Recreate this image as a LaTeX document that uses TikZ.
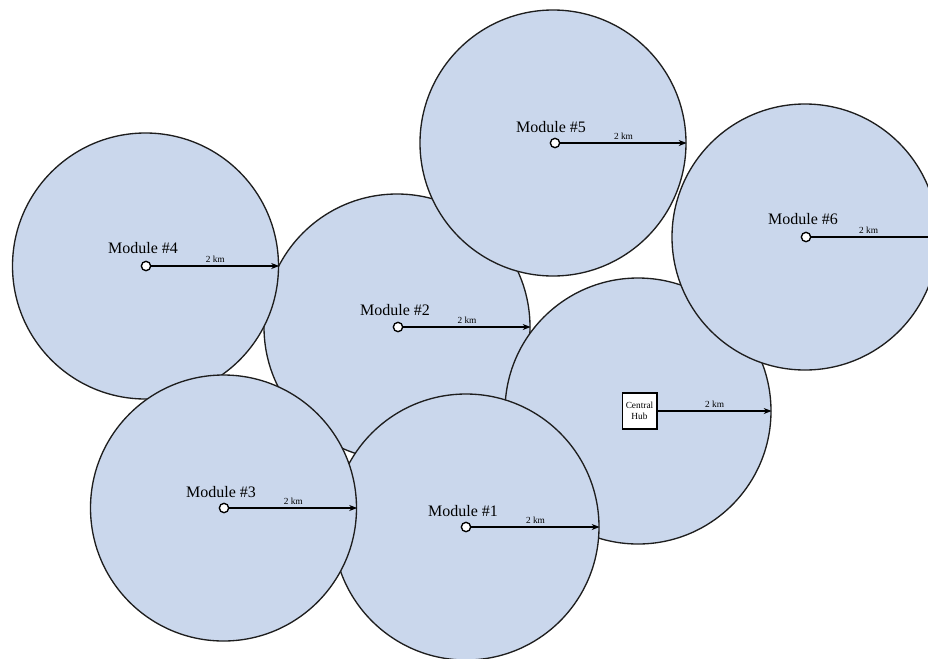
\documentclass[tikz,border=0pt]{standalone}
\usepackage{fontspec}
\setmainfont{Liberation Serif}
\usetikzlibrary{arrows.meta}
\definecolor{zonefill}{RGB}{202,215,236}
\definecolor{edgecol}{RGB}{30,30,30}
\begin{document}
\begin{tikzpicture}[x=0.75pt,y=-0.75pt,
  zone/.style={circle,draw=edgecol,fill=zonefill,line width=1pt,minimum size=199.5pt,inner sep=0pt},
  dot/.style={circle,draw=black,fill=white,line width=1pt,minimum size=7pt,inner sep=0pt},
  radiusarrow/.style={-{Stealth[length=6pt,width=4.5pt]},line width=1pt,draw=black},
  dist/.style={font=\fontsize{7}{8}\selectfont,above,inner sep=1.8pt},
  modlabel/.style={font=\fontsize{12}{14}\selectfont,inner sep=0pt},
  hubbox/.style={draw=black,fill=white,line width=1pt,minimum width=26pt,minimum height=27pt,inner sep=1pt,align=center,font=\fontsize{7}{8}\selectfont}]
\useasboundingbox (0,0) rectangle (928,658);

% Module #2
\node[zone] (c2) at (397,327) {};
\node[dot] (d2) at (398,327) {};
\node[modlabel] (l2) at (395,310) {Module \#2};
\draw[radiusarrow] (d2.east) -- (c2.east) node[dist,midway] {2 km};

% Central Hub
\node[zone] (ch) at (638,411) {};
\node[hubbox] (hub) at (639.5,411) {Central\\Hub};
\draw[radiusarrow] (hub.east) -- (ch.east) node[dist,midway] {2 km};

% Module #6
\node[zone] (c6) at (805,237) {};
\node[dot] (d6) at (806,237) {};
\node[modlabel] (l6) at (803,219) {Module \#6};
\draw[radiusarrow] (d6.east) -- (c6.east) node[dist,pos=0.45] {2 km};

% Module #5
\node[zone] (c5) at (553,143) {};
\node[dot] (d5) at (555,143) {};
\node[modlabel] (l5) at (551,127) {Module \#5};
\draw[radiusarrow] (d5.east) -- (c5.east) node[dist,midway] {2 km};

% Module #4
\node[zone] (c4) at (145.5,266) {};
\node[dot] (d4) at (146,266) {};
\node[modlabel] (l4) at (143,248) {Module \#4};
\draw[radiusarrow] (d4.east) -- (c4.east) node[dist,midway] {2 km};

% Module #1
\node[zone] (c1) at (466,527) {};
\node[dot] (d1) at (466,527) {};
\node[modlabel] (l1) at (463,511) {Module \#1};
\draw[radiusarrow] (d1.east) -- (c1.east) node[dist,midway] {2 km};

% Module #3
\node[zone] (c3) at (223.5,508) {};
\node[dot] (d3) at (224,508) {};
\node[modlabel] (l3) at (221,492) {Module \#3};
\draw[radiusarrow] (d3.east) -- (c3.east) node[dist,midway] {2 km};
\end{tikzpicture}
\end{document}
